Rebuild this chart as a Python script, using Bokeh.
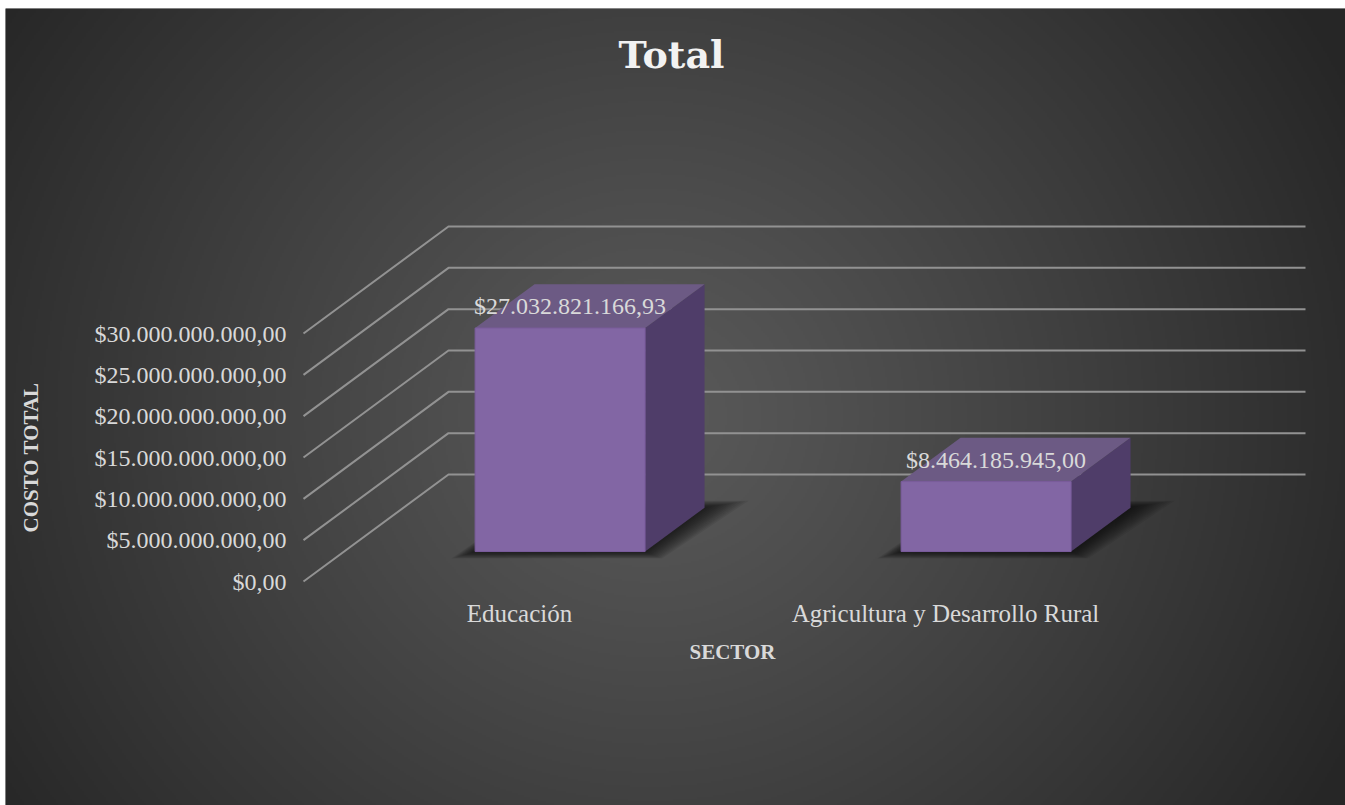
import numpy as np
from bokeh.plotting import figure
from bokeh.models import Range1d, LinearAxis, FixedTicker, Label, ColumnDataSource
from bokeh.core.properties import value
from bokeh.embed import file_html
from bokeh.resources import INLINE

# ---------------- data ----------------
CATEGORIES = ["Educación", "Agricultura y Desarrollo Rural"]
VALUES = [27032821166.93, 8464185945.00]
TICKS = [0.0, 5e9, 10e9, 15e9, 20e9, 25e9, 30e9]
TITLE = "Total"
Y_LABEL = "COSTO TOTAL"
X_LABEL = "SECTOR"


def money(v):
    s = f"${v:,.2f}"
    return s.replace(",", "_").replace(".", ",").replace("_", ".")


# ---------------- geometry (page pixels of the pseudo-3D view) ----------------
W, H = 1345, 805
FL, FT = 5, 8                      # frame left / top on the page
X0PX, XPX = 519.0, 426.0           # page x of category 0, px per category step
Y0PX, YPX = 581.0, 248.0 / 30e9    # page y of value 0 (front plane), px per unit

x_range = Range1d((FL - X0PX) / XPX, (W - X0PX) / XPX)
y_range = Range1d(-(H - Y0PX) / YPX, (Y0PX - FT) / YPX)


def sx(px):
    return (px - X0PX) / XPX


def sy(py):
    return (Y0PX - py) / YPX


DX, DY = 145.0 / XPX, 107.0 / YPX   # depth vector (front plane -> back wall)
D1, D2 = 0.28, 0.69                 # bar depth span
BW = 170.0 / XPX                    # bar width
XL, XR = sx(303), sx(1305)          # left edge of side wall, right end of back wall

FONT = "Liberation Serif"
TXT = "#d9d9d9"

p = figure(width=W, height=H, x_range=x_range, y_range=y_range,
           output_backend="svg", toolbar_location=None, tools="",
           x_axis_type=None, y_axis_type=None,
           min_border_left=FL, min_border_top=FT, min_border_right=0, min_border_bottom=0)
p.outline_line_color = None
p.background_fill_color = "#3a3a3a"
p.border_fill_color = "white"

# ---------------- radial gradient background ----------------
fw, fh = W - FL, H - FT
rows, cols = (fh + 1) // 2, (fw + 1) // 2
fx = FL + (np.arange(cols) + 0.5) * fw / cols
fy = H - (np.arange(rows) + 0.5) * fh / rows
FX, FY = np.meshgrid(fx, fy)
d = np.sqrt(((FX - 650) / 1.0) ** 2 + ((FY - 415) / 0.95) ** 2) / 790.0
t = np.clip(d, 0, 1) ** 1.1
v = (0x5a * (1 - t) + 0x26 * t).astype(np.uint8)
img = np.empty((rows, cols), dtype=np.uint32)
view = img.view(dtype=np.uint8).reshape((rows, cols, 4))
view[..., 0] = v
view[..., 1] = v
view[..., 2] = v
view[..., 3] = 255
p.image_rgba(image=[img], x=x_range.start, y=y_range.start,
             dw=x_range.end - x_range.start, dh=y_range.end - y_range.start)

# ---------------- gridlines (side wall diagonals + back wall) ----------------
gxs = [[XL, XL + DX, XR] for _ in TICKS]
gys = [[tk, tk + DY, tk + DY] for tk in TICKS]
p.multi_line(xs=gxs, ys=gys, line_color="#929292", line_width=2)

# ---------------- bars ----------------
idx = list(range(len(CATEGORIES)))
fl = [i + D1 * DX - BW / 2 for i in idx]
fr = [i + D1 * DX + BW / 2 for i in idx]
fb = [D1 * DY for _ in idx]
ft = [val + D1 * DY for val in VALUES]
bdx = (D2 - D1) * DX
bdy = (D2 - D1) * DY

# soft (blurred) shadow on the floor
for k in range(12):
    e = (34 - 2.8 * k) / XPX
    ey = (7 - 0.55 * k) / YPX
    sxs = [[l - e * 0.7, r + e * 0.5, r + bdx + e * 1.3, l + bdx] for l, r in zip(fl, fr)]
    sys_ = [[b - ey, b - ey, b + bdy + ey, b + bdy + ey] for b in fb]
    p.patches(xs=sxs, ys=sys_, fill_color="black", fill_alpha=0.065, line_color=None)

# side faces
side_x = [[r, r + bdx, r + bdx, r] for r in fr]
side_y = [[b, b + bdy, tp + bdy, tp] for b, tp in zip(fb, ft)]
p.patches(xs=side_x, ys=side_y, fill_color="#4f3d69", line_color=None)

# top faces
top_x = [[l, r, r + bdx, l + bdx] for l, r in zip(fl, fr)]
top_y = [[tp, tp, tp + bdy, tp + bdy] for tp in ft]
p.patches(xs=top_x, ys=top_y, fill_color="#6c5a84", line_color=None)

# front faces
src = ColumnDataSource(dict(left=fl, right=fr, bottom=fb, top=ft, cat=CATEGORIES, val=VALUES))
p.quad(left="left", right="right", bottom="bottom", top="top", source=src,
       fill_color="#8266a4", line_color="#7a5c9c", line_width=1)

# data labels
lab = ColumnDataSource(dict(
    x=[i + D1 * DX + 10 / XPX for i in idx],
    y=[val + (D1 + D2) / 2 * DY for val in VALUES],
    text=[money(val) for val in VALUES]))
p.text(x="x", y="y", text="text", source=lab, text_align="center", text_baseline="middle",
       text_font=value(FONT), text_font_size="24px", text_color=TXT)

# ---------------- axes ----------------
yaxis = LinearAxis(fixed_location=XL, bounds=(TICKS[0], TICKS[-1]),
                   ticker=FixedTicker(ticks=TICKS),
                   major_label_overrides={tk: money(tk) for tk in TICKS},
                   axis_line_color=None, major_tick_line_color=None, minor_tick_line_color=None,
                   major_tick_in=0, major_tick_out=0,
                   major_label_standoff=17,
                   major_label_text_font=FONT, major_label_text_font_size="24px",
                   major_label_text_color=TXT,
                   axis_label=Y_LABEL, axis_label_standoff=49,
                   axis_label_text_font=FONT, axis_label_text_font_style="bold",
                   axis_label_text_font_size="21px", axis_label_text_color=TXT)
p.add_layout(yaxis, "left")

xaxis = LinearAxis(fixed_location=0.0, bounds=(-0.3, 1.3),
                   ticker=FixedTicker(ticks=[float(i) for i in idx]),
                   major_label_overrides={float(i): c for i, c in zip(idx, CATEGORIES)},
                   axis_line_color=None, major_tick_line_color=None, minor_tick_line_color=None,
                   major_tick_in=0, major_tick_out=0,
                   major_label_standoff=18,
                   major_label_text_font=FONT, major_label_text_font_size="25px",
                   major_label_text_color=TXT,
                   axis_label=X_LABEL, axis_label_standoff=10,
                   axis_label_text_font=FONT, axis_label_text_font_style="bold",
                   axis_label_text_font_size="21px", axis_label_text_color=TXT)
p.add_layout(xaxis, "below")

# ---------------- title ----------------
p.add_layout(Label(x=sx(671), y=sy(54), text=TITLE, text_align="center",
                   text_baseline="middle", text_font="DejaVu Serif",
                   text_font_style="bold", text_font_size="38px", text_color="#f2f2f2"))

open("out.html", "w").write(file_html(p, INLINE))
